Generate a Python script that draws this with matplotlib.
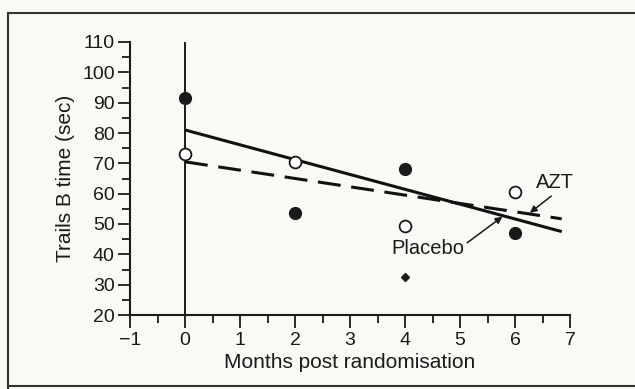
import matplotlib
matplotlib.use("Agg")
import matplotlib.pyplot as plt
import numpy as np
from matplotlib.ticker import MultipleLocator

plt.rcParams['font.family'] = ['Liberation Sans', 'DejaVu Sans']

# Data
months = [0, 2, 4, 6]
placebo_filled = [91.5, 53.5, 68, 47]
azt_open = [73, 70.5, 49.5, 60.5]
extra_x = [4]
extra_y = [32.5]
line_x = [0, 6.85]
placebo_line = [81, 47.5]
azt_line = [70.5, 51.7]
xtick_labels = ['\u22121', '0', '1', '2', '3', '4', '5', '6', '7']

bg = '#faf9f5'
ink = '#1a1a1a'
fig = plt.figure(figsize=(6.35, 3.89), dpi=100, facecolor=bg)
ax = fig.add_axes([130/635, 1-315/389, 440/635, 273/389], facecolor=bg)

ax.set_xlim(-1, 7)
ax.set_ylim(20, 110)
for s in ['top', 'right']:
    ax.spines[s].set_visible(False)
for s in ['left', 'bottom']:
    ax.spines[s].set_linewidth(1.5)
    ax.spines[s].set_color(ink)

ax.xaxis.set_minor_locator(MultipleLocator(0.5))
ax.yaxis.set_minor_locator(MultipleLocator(5))
ax.set_xticks(np.arange(-1, 8, 1))
ax.set_xticklabels(xtick_labels)
ax.set_yticks(np.arange(20, 111, 10))
ax.tick_params(axis='both', which='major', direction='out', length=9, width=1.3,
               labelsize=14, color=ink, labelcolor=ink)
ax.tick_params(axis='y', which='major', pad=2)
ax.tick_params(axis='x', which='major', pad=3)
ax.tick_params(axis='both', which='minor', direction='out', length=5.5, width=1.3, color=ink)

ax.axvline(0, color=ink, lw=1.4)

ax.plot(line_x, placebo_line, color='#111111', lw=2.2, solid_capstyle='butt')
ax.plot(line_x, azt_line, color='#111111', lw=2.2, dashes=(7.5, 3.5))

ax.plot(months, placebo_filled, 'o', color=ink, ms=8.5, zorder=5)
ax.plot(months, azt_open, 'o', mfc='white', mec=ink, mew=1.3, ms=8.5, zorder=5, clip_on=False)
ax.plot(extra_x, extra_y, 'D', color=ink, ms=4, zorder=5)

ax.text(6.72, 63.8, 'AZT', fontsize=14.5, ha='center', va='center', color=ink)
ax.annotate('', xy=(6.27, 53.7), xytext=(6.66, 59.2),
            arrowprops=dict(arrowstyle='-|>', color=ink, lw=1.1, shrinkA=0, shrinkB=0, mutation_scale=10))
ax.text(4.41, 41.8, 'Placebo', fontsize=14.5, ha='center', va='center', color=ink)
ax.annotate('', xy=(5.77, 52.4), xytext=(5.13, 43.8),
            arrowprops=dict(arrowstyle='-|>', color=ink, lw=1.1, shrinkA=0, shrinkB=0, mutation_scale=10))

ax.set_xlabel('Months post randomisation', fontsize=15, color=ink, labelpad=3)
ax.set_ylabel('Trails B time (sec)', fontsize=15, color=ink, labelpad=5)

# Frame
fig.add_artist(plt.Line2D([8/635, 8/635], [0, 1-13/389], color='#333333', lw=1.5, transform=fig.transFigure))
fig.add_artist(plt.Line2D([8/635, 1], [1-13/389, 1-13/389], color='#333333', lw=1.5, transform=fig.transFigure))
fig.add_artist(plt.Line2D([8/635, 1], [1-386/389, 1-386/389], color='#333333', lw=1.5, transform=fig.transFigure))

fig.savefig('out.png', dpi=100, facecolor=bg)
